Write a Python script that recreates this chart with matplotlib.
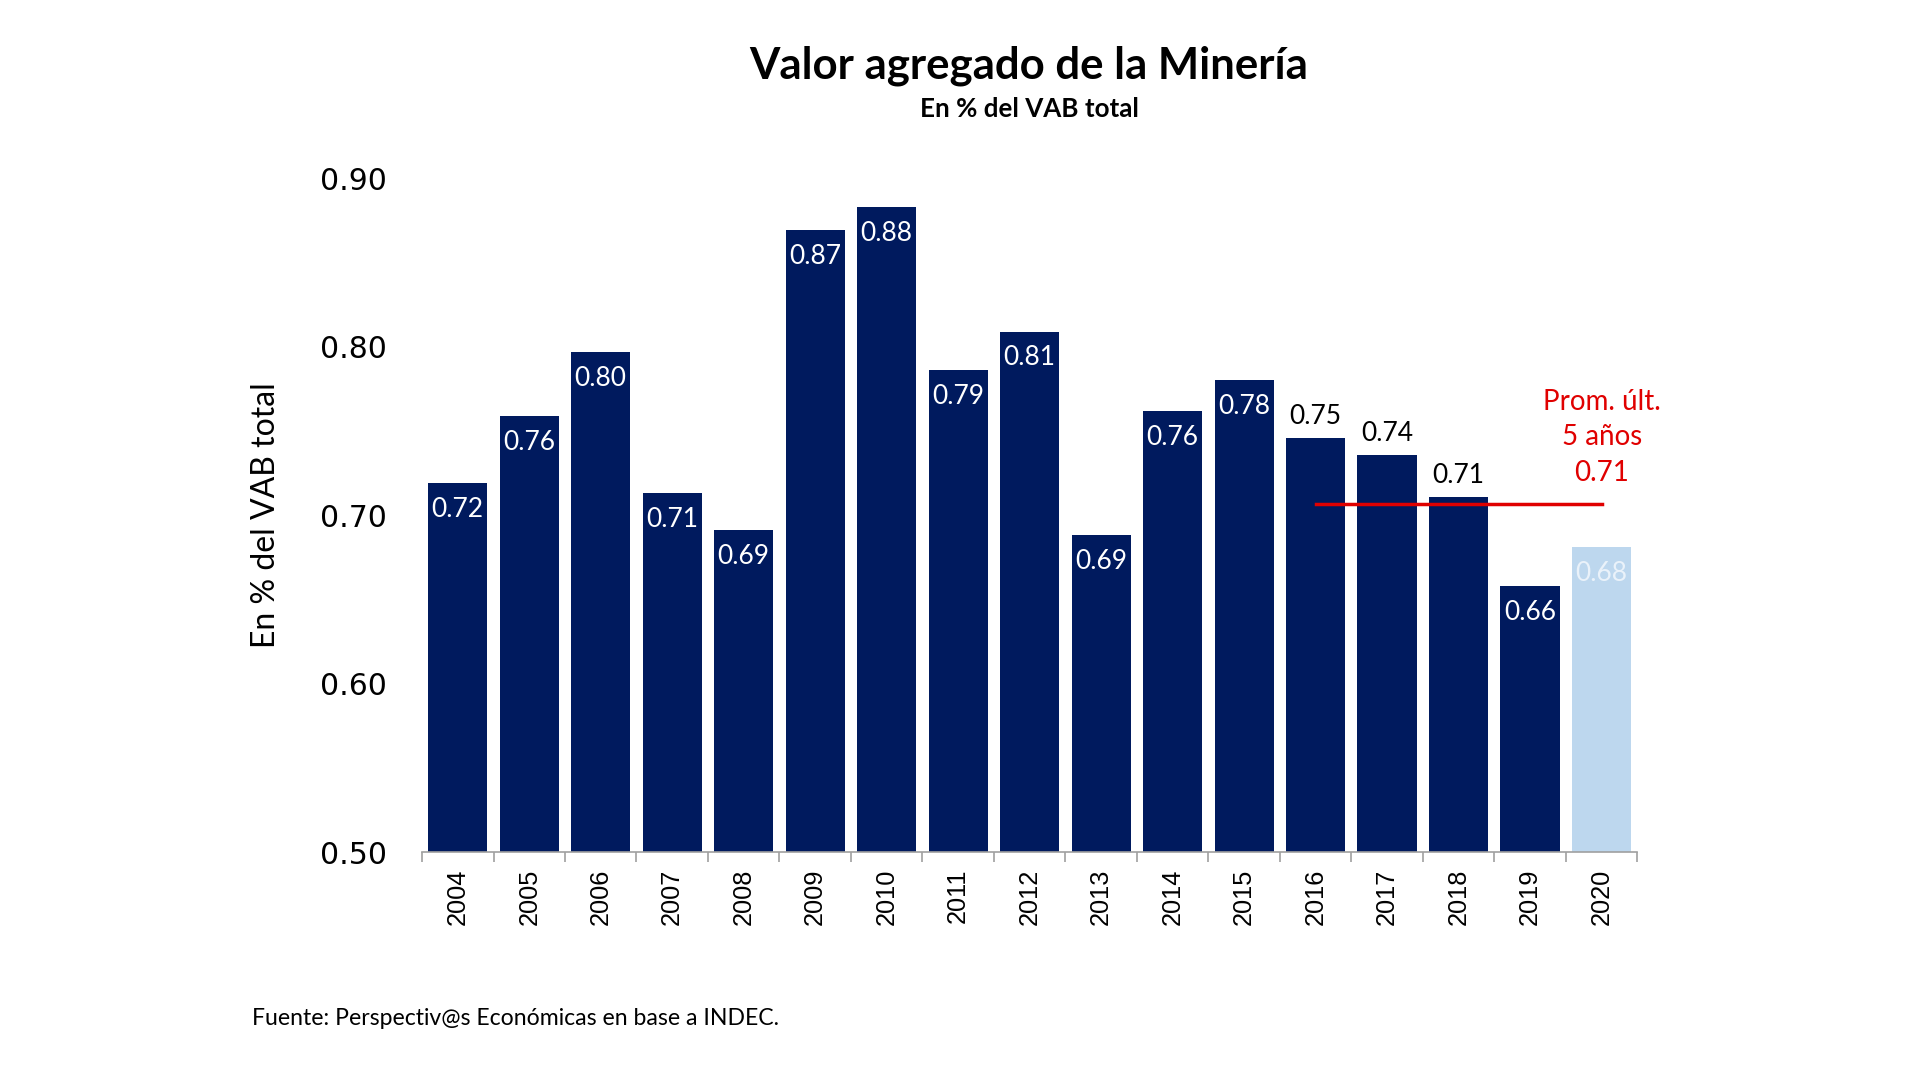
import matplotlib
matplotlib.use("Agg")
import matplotlib.pyplot as plt
import numpy as np

years = ["2004", "2005", "2006", "2007", "2008", "2009", "2010", "2011", "2012",
         "2013", "2014", "2015", "2016", "2017", "2018", "2019", "2020"]
values = [0.719, 0.759, 0.797, 0.713, 0.691, 0.869, 0.883, 0.786, 0.809,
          0.688, 0.762, 0.780, 0.746, 0.736, 0.711, 0.658, 0.681]
labels_above = ["2016", "2017", "2018"]
avg_years = ["2016", "2017", "2018", "2019", "2020"]
avg_label = "Prom. últ.\n5 años\n0.71"
yticks = [0.50, 0.60, 0.70, 0.80, 0.90]

NAVY = "#001A5E"
LIGHT = "#BDD7EE"
RED = "#E00000"
CAL = ["Lato", "DejaVu Sans"]

def main():
    fig = plt.figure(figsize=(19.2, 10.8), dpi=100)
    ax = fig.add_axes([0.2198, 0.211, 0.633, 0.624])

    x = np.arange(len(years))
    colors = [LIGHT if y == "2020" else NAVY for y in years]
    ax.bar(x, values, width=0.83, color=colors, zorder=2)

    for xi, yr, v in zip(x, years, values):
        txt = f"{v:.2f}"
        if yr in labels_above:
            ax.annotate(txt, (xi, v), xytext=(0, 6), textcoords="offset points",
                        ha="center", va="bottom", fontsize=19, family=CAL, color="black")
        else:
            c = "#EAF2FA" if yr == "2020" else "white"
            ax.annotate(txt, (xi, v), xytext=(0, -19), textcoords="offset points",
                        ha="center", va="center", fontsize=19, family=CAL, color=c)

    # average of the last five years
    idx = [years.index(y) for y in avg_years]
    avg = np.mean([values[i] for i in idx])
    ax.plot([idx[0], idx[-1]], [avg, avg], color=RED, lw=2.5, zorder=3)
    ax.text(idx[-1], avg + 0.011, avg_label, ha="center", va="bottom", color=RED,
            fontsize=20, family=CAL, linespacing=1.45)

    ax.set_xlim(-0.5, len(years) - 0.5)
    ax.set_ylim(0.5, 0.9)
    ax.set_yticks(yticks)
    ax.set_yticklabels([f"{t:.2f}" for t in yticks], fontsize=21.5, family="DejaVu Sans")
    ax.tick_params(axis="y", length=0, pad=25)

    ax.set_xticks(x)
    ax.set_xticklabels(years, rotation=90, fontsize=18.3, family="Liberation Sans")
    ax.set_xticks(np.arange(-0.5, len(years)), minor=True)
    ax.tick_params(axis="x", which="major", length=0, pad=12)
    ax.tick_params(axis="x", which="minor", length=7, color="#A0A0A0", width=1.2)

    for s in ["top", "right", "left"]:
        ax.spines[s].set_visible(False)
    ax.spines["bottom"].set_color("#A0A0A0")
    ax.spines["bottom"].set_linewidth(1.2)

    ax.set_ylabel("En % del VAB total", fontsize=23, family=CAL, labelpad=28)

    fig.text(0.536, 0.939, "Valor agregado de la Minería", ha="center", va="center",
             fontsize=31.5, fontweight="bold", family=CAL)
    fig.text(0.536, 0.899, "En % del VAB total", ha="center", va="center",
             fontsize=18.7, fontweight="bold", family=CAL)
    fig.text(0.131, 0.057, "Fuente: Perspectiv@s Económicas en base a INDEC.",
             ha="left", va="center", fontsize=16.6, family=CAL)

    fig.savefig("out.png", dpi=100)
    plt.close(fig)

if __name__ == "__main__":
    main()
